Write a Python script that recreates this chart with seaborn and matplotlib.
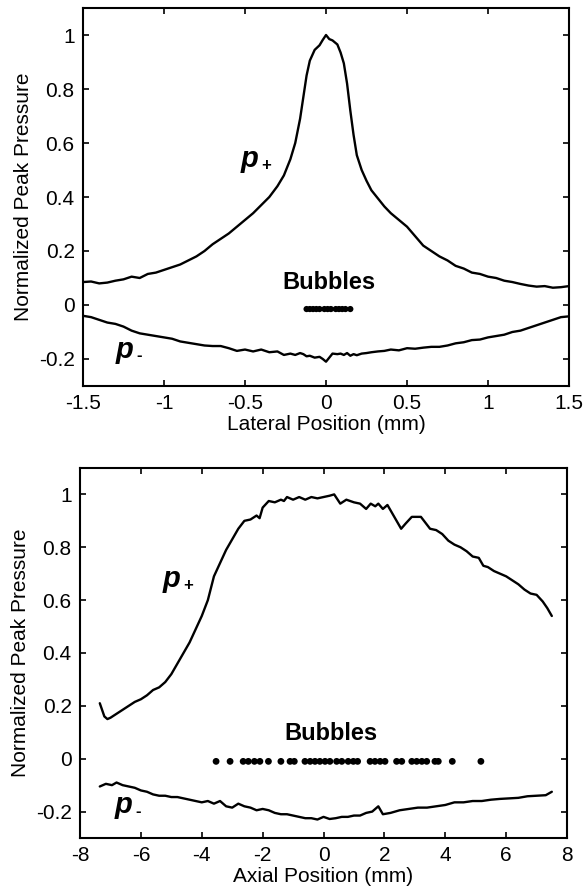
import numpy as np
import pandas as pd
import matplotlib
matplotlib.use("Agg")
import matplotlib.pyplot as plt
import seaborn as sns

# lateral profile (top panel)
lat_x = [-1.50, -1.45, -1.40, -1.35, -1.30, -1.25, -1.20, -1.15, -1.10, -1.05,
         -1.00, -0.95, -0.90, -0.85, -0.80, -0.75, -0.70, -0.65, -0.60, -0.55,
         -0.50, -0.45, -0.40, -0.35, -0.30, -0.26, -0.22, -0.19, -0.16, -0.14,
         -0.12, -0.10, -0.07, -0.04, -0.02, 0.00, 0.02, 0.04, 0.07, 0.09,
         0.11, 0.13, 0.15, 0.17, 0.19, 0.22, 0.25, 0.28, 0.32, 0.36,
         0.40, 0.45, 0.50, 0.55, 0.60, 0.65, 0.70, 0.75, 0.80, 0.85,
         0.90, 0.95, 1.00, 1.05, 1.10, 1.15, 1.20, 1.25, 1.30, 1.35,
         1.40, 1.45, 1.50]
lat_pplus = [0.085, 0.087, 0.080, 0.083, 0.090, 0.095, 0.105, 0.100, 0.115, 0.120,
             0.130, 0.140, 0.150, 0.165, 0.180, 0.200, 0.225, 0.245, 0.265, 0.290,
             0.315, 0.340, 0.370, 0.400, 0.440, 0.480, 0.540, 0.600, 0.690, 0.770,
             0.850, 0.905, 0.945, 0.962, 0.982, 1.000, 0.985, 0.980, 0.965, 0.935,
             0.895, 0.820, 0.720, 0.630, 0.555, 0.500, 0.460, 0.425, 0.395, 0.365,
             0.340, 0.315, 0.290, 0.255, 0.220, 0.200, 0.180, 0.165, 0.145, 0.135,
             0.120, 0.115, 0.105, 0.100, 0.090, 0.085, 0.078, 0.072, 0.068, 0.070,
             0.064, 0.066, 0.070]
lat_pminus = [-0.040, -0.045, -0.055, -0.065, -0.070, -0.080, -0.095, -0.105, -0.110, -0.115,
              -0.120, -0.125, -0.135, -0.140, -0.145, -0.150, -0.152, -0.152, -0.160, -0.170,
              -0.165, -0.172, -0.165, -0.175, -0.172, -0.185, -0.180, -0.185, -0.178, -0.182,
              -0.190, -0.188, -0.195, -0.192, -0.200, -0.210, -0.195, -0.180, -0.182, -0.180,
              -0.185, -0.178, -0.188, -0.182, -0.186, -0.180, -0.178, -0.175, -0.172, -0.170,
              -0.165, -0.168, -0.160, -0.162, -0.158, -0.155, -0.155, -0.150, -0.142, -0.138,
              -0.130, -0.128, -0.120, -0.115, -0.110, -0.100, -0.095, -0.085, -0.075, -0.065,
              -0.055, -0.045, -0.042]
lat_bubbles = [-0.12, -0.10, -0.08, -0.06, -0.04, -0.01, 0.01, 0.03, 0.06, 0.08, 0.10, 0.12, 0.15]

# axial profile (bottom panel)
ax_x = [-7.35, -7.20, -7.10, -7.00, -6.80, -6.60, -6.40, -6.20, -6.00, -5.80,
        -5.60, -5.40, -5.20, -5.00, -4.80, -4.60, -4.40, -4.20, -4.00, -3.80,
        -3.60, -3.40, -3.20, -3.00, -2.80, -2.60, -2.40, -2.20, -2.10, -2.00,
        -1.80, -1.60, -1.40, -1.30, -1.20, -1.00, -0.80, -0.60, -0.40, -0.20,
        0.00, 0.20, 0.35, 0.55, 0.75, 1.00, 1.20, 1.40, 1.55, 1.70,
        1.80, 1.95, 2.10, 2.30, 2.55, 2.70, 2.90, 3.20, 3.50, 3.70,
        3.90, 4.10, 4.30, 4.50, 4.70, 4.90, 5.10, 5.25, 5.40, 5.60,
        5.80, 6.00, 6.20, 6.40, 6.60, 6.80, 7.00, 7.20, 7.35, 7.50]
ax_pplus = [0.21, 0.16, 0.15, 0.155, 0.17, 0.185, 0.20, 0.215, 0.225, 0.24,
            0.26, 0.27, 0.29, 0.32, 0.36, 0.40, 0.44, 0.49, 0.54, 0.60,
            0.69, 0.74, 0.79, 0.83, 0.87, 0.90, 0.905, 0.92, 0.91, 0.95,
            0.975, 0.97, 0.98, 0.975, 0.99, 0.98, 0.99, 0.98, 0.99, 0.985,
            0.99, 0.995, 1.00, 0.965, 0.98, 0.97, 0.965, 0.945, 0.965, 0.955,
            0.965, 0.945, 0.96, 0.92, 0.87, 0.89, 0.915, 0.915, 0.87, 0.865,
            0.85, 0.825, 0.81, 0.80, 0.785, 0.765, 0.76, 0.73, 0.725, 0.71,
            0.70, 0.69, 0.675, 0.66, 0.64, 0.625, 0.62, 0.595, 0.57, 0.54]
ax_x_neg = [-7.35, -7.15, -6.95, -6.80, -6.60, -6.40, -6.20, -6.00, -5.80, -5.60,
            -5.40, -5.20, -5.00, -4.80, -4.60, -4.40, -4.20, -4.00, -3.80, -3.60,
            -3.40, -3.20, -3.00, -2.80, -2.60, -2.40, -2.20, -2.00, -1.80, -1.60,
            -1.40, -1.20, -1.00, -0.80, -0.60, -0.40, -0.20, 0.00, 0.20, 0.40,
            0.60, 0.80, 1.00, 1.20, 1.40, 1.60, 1.80, 1.95, 2.20, 2.50,
            2.80, 3.10, 3.40, 3.70, 4.00, 4.30, 4.60, 4.90, 5.20, 5.50,
            5.80, 6.10, 6.40, 6.70, 7.00, 7.30, 7.50]
ax_pminus = [-0.105, -0.095, -0.10, -0.09, -0.10, -0.105, -0.11, -0.12, -0.125, -0.135,
             -0.14, -0.14, -0.145, -0.145, -0.15, -0.155, -0.16, -0.165, -0.16, -0.17,
             -0.16, -0.18, -0.185, -0.17, -0.18, -0.185, -0.195, -0.19, -0.195, -0.205,
             -0.21, -0.21, -0.215, -0.22, -0.225, -0.225, -0.23, -0.22, -0.228, -0.225,
             -0.22, -0.22, -0.215, -0.215, -0.205, -0.20, -0.18, -0.21, -0.205, -0.195,
             -0.19, -0.185, -0.185, -0.18, -0.175, -0.165, -0.165, -0.16, -0.16, -0.155,
             -0.152, -0.15, -0.148, -0.142, -0.14, -0.138, -0.125]
ax_bubbles = [-3.53, -3.07, -2.64, -2.47, -2.27, -2.09, -1.81, -1.40, -1.10, -0.96,
              -0.61, -0.44, -0.28, -0.12, 0.05, 0.21, 0.43, 0.60, 0.81, 0.98,
              1.12, 1.53, 1.69, 1.86, 2.02, 2.40, 2.57, 2.90, 3.06, 3.23,
              3.39, 3.66, 3.77, 4.23, 5.17]

sns.set_style("ticks")
plt.rcParams["font.family"] = ["Liberation Sans", "DejaVu Sans"]
plt.rcParams["text.color"] = "black"
plt.rcParams["axes.labelcolor"] = "black"

fig = plt.figure(figsize=(5.87, 8.90), dpi=100)
ax1 = fig.add_axes([0.1414, 0.5663, 0.828, 0.4247])
ax2 = fig.add_axes([0.1363, 0.0584, 0.8297, 0.4158])


def style_axes(ax, xlim, xticks, xticklabels, xlabel):
    ax.set_xlim(*xlim)
    ax.set_ylim(-0.3, 1.1)
    ax.set_xticks(xticks)
    ax.set_xticklabels(xticklabels)
    ax.set_yticks([-0.2, 0, 0.2, 0.4, 0.6, 0.8, 1])
    ax.set_yticklabels(["-0.2", "0", "0.2", "0.4", "0.6", "0.8", "1"])
    ax.tick_params(direction="in", top=True, right=True, length=4, width=1.2,
                   labelsize=15, pad=6, colors="black")
    for s in ax.spines.values():
        s.set_visible(True)
        s.set_linewidth(1.5)
        s.set_color("black")
    ax.set_xlabel(xlabel, fontsize=15, labelpad=1)
    ax.set_ylabel("Normalized Peak Pressure", fontsize=15, labelpad=4)


def p_label(ax, x, y, sub):
    ax.text(x, y, "p", fontsize=21, fontweight="bold", fontstyle="italic", va="baseline")
    ax.annotate(sub, xy=(x, y), xytext=(15, -2), textcoords="offset points",
                fontsize=12, fontweight="bold", va="baseline")


# top panel
sns.lineplot(x=lat_x, y=lat_pplus, ax=ax1, color="black", lw=1.7)
sns.lineplot(x=lat_x, y=lat_pminus, ax=ax1, color="black", lw=1.7)
sns.scatterplot(x=lat_bubbles, y=[-0.015] * len(lat_bubbles), ax=ax1,
                color="black", s=20, edgecolor="none")
style_axes(ax1, (-1.5, 1.5), [-1.5, -1, -0.5, 0, 0.5, 1, 1.5],
           ["-1.5", "-1", "-0.5", "0", "0.5", "1", "1.5"], "Lateral Position (mm)")
ax1.text(0.02, 0.06, "Bubbles", fontsize=17, fontweight="bold", ha="center", va="baseline")
p_label(ax1, -0.53, 0.51, "+")
p_label(ax1, -1.30, -0.195, "-")

# bottom panel
sns.lineplot(x=ax_x, y=ax_pplus, ax=ax2, color="black", lw=1.7)
sns.lineplot(x=ax_x_neg, y=ax_pminus, ax=ax2, color="black", lw=1.7)
sns.scatterplot(x=ax_bubbles, y=[-0.01] * len(ax_bubbles), ax=ax2,
                color="black", s=24, edgecolor="none")
style_axes(ax2, (-8, 8), [-8, -6, -4, -2, 0, 2, 4, 6, 8],
           ["-8", "-6", "-4", "-2", "0", "2", "4", "6", "8"], "Axial Position (mm)")
ax2.text(0.25, 0.07, "Bubbles", fontsize=17, fontweight="bold", ha="center", va="baseline")
p_label(ax2, -5.30, 0.65, "+")
p_label(ax2, -6.85, -0.205, "-")

fig.savefig("out.png", dpi=100, facecolor="white")
